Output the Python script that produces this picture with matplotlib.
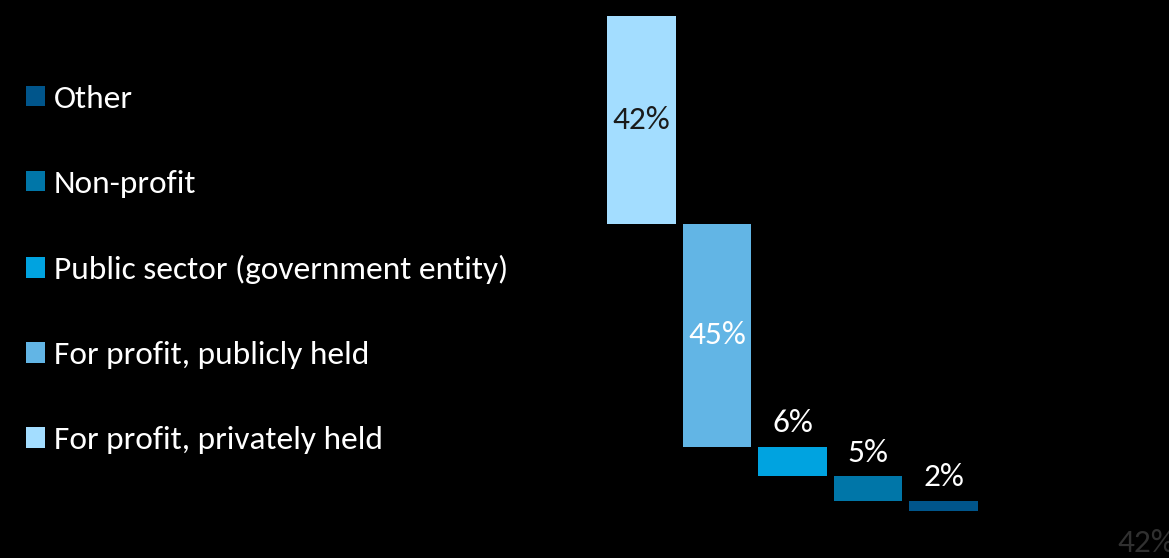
import matplotlib
matplotlib.use("Agg")
import matplotlib.pyplot as plt
from matplotlib.patches import Patch

plt.rcParams["font.family"] = ["Carlito", "Lato", "DejaVu Sans"]

# data (top of waterfall first)
categories = ["For profit, privately held", "For profit, publicly held",
              "Public sector (government entity)", "Non-profit", "Other"]
shares = [42, 45, 6, 5, 2]
labels = ["42%", "45%", "6%", "5%", "2%"]
colors = ["#A3DDFF", "#62B5E5", "#00A3E0", "#0076A8", "#00558B"]
label_colors = ["#1a1a1a", "white", "white", "white", "white"]

W, H, DPI = 1169, 558, 100
FS = 24
fig = plt.figure(figsize=(W / DPI, H / DPI), dpi=DPI)
fig.patch.set_facecolor("black")
ax = fig.add_axes([0, 0, 1, 1])
ax.set_facecolor("black")
ax.axis("off")

# map: bar index spacing ~75.5px, first centre at 641.5px; 100% = 495px starting at y=16px
ax.set_xlim(-641.5 / 75.5, (W - 641.5) / 75.5)
ax.set_ylim((H - 16) / 4.95, -16 / 4.95)

bottoms = []
run = 0
for s in shares:
    bottoms.append(run)
    run += s

xs = list(range(len(shares)))
ax.bar(xs, shares, bottom=bottoms, width=0.91, color=colors, linewidth=0)

for i, (s, b, lab) in enumerate(zip(shares, bottoms, labels)):
    if s > 20:
        ax.text(i, b + s / 2, lab, ha="center", va="center",
                fontsize=FS, color=label_colors[i])
    else:
        ax.text(i, b - 4.8, lab, ha="center", va="center",
                fontsize=FS, color="white")

handles = [Patch(facecolor=c, edgecolor="none") for c in colors][::-1]
leg = fig.legend(handles, categories[::-1], loc="upper left",
                 bbox_to_anchor=(26 / W, 1 - 85 / H), frameon=False,
                 borderpad=0, borderaxespad=0,
                 fontsize=FS, labelcolor="white", labelspacing=1.71,
                 handlelength=0.57, handleheight=0.57, handletextpad=0.27)

# faint stray label in the bottom-right corner (cut off by the edge, as in the source)
fig.text(1117 / W, 1 - 543 / H, "42%", ha="left", va="center",
         fontsize=FS, color="#303030")

fig.savefig("out.png", dpi=DPI, facecolor="black")
